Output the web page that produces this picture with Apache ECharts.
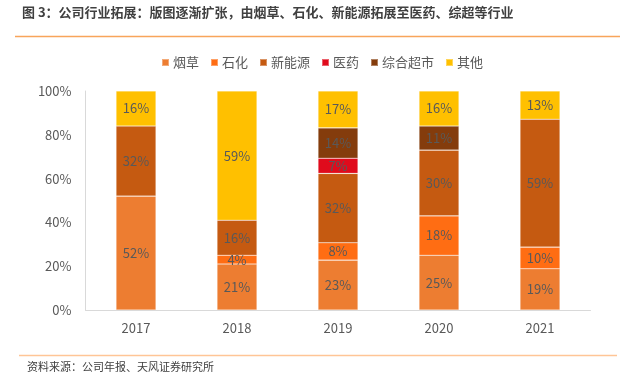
<!DOCTYPE html>
<html><head><meta charset="utf-8">
<script src="https://cdn.jsdelivr.net/npm/echarts@6/dist/echarts.min.js"></script>
<style>html,body{margin:0;padding:0;background:#fff;}#c{width:637px;height:375px;}</style>
</head><body><div id="c"></div>
<script>
const categories = ['2017','2018','2019','2020','2021'];
const seriesNames = ['烟草','石化','新能源','医药','综合超市','其他'];
const tobacco = [52, 21, 23, 25, 19];
const petro = [0, 4, 8, 18, 10];
const newEnergy = [32, 16, 32, 30, 59];
const pharma = [0, 0, 7, 0, 0];
const retail = [0, 0, 14, 11, 0];
const other = [16, 59, 17, 16, 13];
const yTicks = ['0%','20%','40%','60%','80%','100%'];
const colors = ['#ED7D31','#FF6D13','#C55A11','#E00B1C','#843C0C','#FFC000'];

const all = [tobacco, petro, newEnergy, pharma, retail, other];
const sums = categories.map((c,i)=>all.reduce((s,a)=>s+a[i],0));

const series = all.map((arr, k) => ({
  name: seriesNames[k],
  type: 'bar',
  stack: 'total',
  barWidth: 40,
  data: arr.map((v,i)=>({value: v===0?null:v/sums[i]*100, raw: v})),
  itemStyle: {color: colors[k], borderColor: 'rgba(255,255,255,0.35)', borderWidth: 0.6},
  label: {show: true, position: 'inside', color: '#595959', fontSize: 13,
    fontFamily: 'Noto Sans CJK SC',
    formatter: p => p.data.raw + '%'}
}));

const chart = echarts.init(document.getElementById('c'), null, {renderer:'canvas'});
chart.setOption({
  animation: false,
  textStyle: {fontFamily: 'Noto Sans CJK SC'},
  graphic: [
    {type:'text', left: 22, top: 6, style:{text:'图 3：公司行业拓展：版图逐渐扩张，由烟草、石化、新能源拓展至医药、综超等行业', fill:'#404040', font:'bold 13px "Noto Sans CJK SC"'}},
    {type:'line', shape:{x1:15,y1:36.5,x2:620,y2:36.5}, style:{stroke:'#F8A55B', lineWidth:1.5}},
    {type:'line', shape:{x1:19,y1:355.5,x2:617,y2:355.5}, style:{stroke:'#FFC596', lineWidth:1.5}},
    {type:'text', left: 27, top: 361, style:{text:'资料来源：公司年报、天风证券研究所', fill:'#404040', font:'11px "Noto Sans CJK SC"'}}
  ],
  legend: {
    top: 51, left: 156, itemWidth: 7, itemHeight: 7, itemGap: 11,
    icon: 'rect',
    textStyle: {color:'#595959', fontSize: 13, padding:[0,0,0,-1]},
    data: seriesNames
  },
  grid: {left: 85.5, right: 46.5, top: 91, bottom: 65},
  xAxis: {
    type: 'category', data: categories,
    axisLine: {lineStyle:{color:'#D9D9D9'}},
    axisTick: {show:false},
    axisLabel: {color:'#595959', fontSize: 13, margin: 12}
  },
  yAxis: {
    type: 'value', min: 0, max: 100, interval: 20,
    axisLine: {show:true, lineStyle:{color:'#D9D9D9'}},
    axisTick: {show:false},
    splitLine: {show:false},
    axisLabel: {color:'#595959', fontSize: 13, margin: 14,
      formatter: v => yTicks[Math.round(v/20)]}
  },
  series: series
});
</script></body></html>
